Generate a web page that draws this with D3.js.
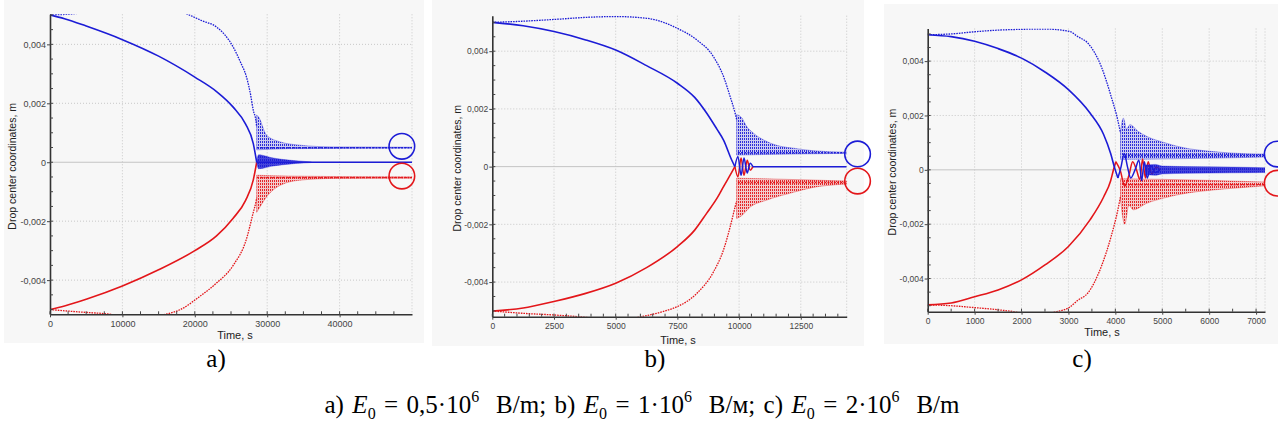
<!DOCTYPE html>
<html>
<head>
<meta charset="utf-8">
<script src="https://cdn.jsdelivr.net/npm/d3@7"></script>
<style>
	body { margin: 0; background: #fff; }
	svg { display: block; }
	.sans { font-family: 'Liberation Sans', Arial, sans-serif; fill: #333; }
	.serif { font-family: 'Liberation Serif', 'Times New Roman', serif; fill: #000; }
</style>
</head>
<body>
<script>
// values: time in s, drop centre coordinate in m

var coordTicks = [0.004, 0.002, 0, -0.002, -0.004];
var coordTickLabels = ['0,004', '0,002', '0', '-0,002', '-0,004'];

var timeTicksA = [0, 10000, 20000, 30000, 40000];
var timeTicksB = [0, 2500, 5000, 7500, 10000, 12500];
var timeTicksC = [0, 1000, 2000, 3000, 4000, 5000, 6000, 7000];

var panelNames = ['a)', 'b)', 'c)'];

// panel a, E0 = 0,5e6
var blueInnerA = [[0, 0.0050], [2000, 0.00487], [5000, 0.00462], [10000, 0.00416], [15000, 0.0036],
	[20000, 0.00289], [23000, 0.0024], [25300, 0.00187], [27000, 0.0013], [28080, 0.00063], [28550, 0]];
var blueOuterA = [[0, 0.0050], [3000, 0.00503], [8000, 0.0052], [13000, 0.0053], [17000, 0.0052],
	[19100, 0.00501], [21000, 0.0048], [23000, 0.00459], [25300, 0.00391], [26300, 0.0034],
	[27140, 0.00289], [27700, 0.0023], [28080, 0.00176], [28440, 0.00142], [28550, 0.0012]];
var redInnerA = [[0, -0.0050], [2000, -0.00488], [5000, -0.00465], [10000, -0.0042], [15000, -0.00365],
	[20000, -0.0030], [23000, -0.0025], [25300, -0.0019], [27000, -0.0013], [28080, -0.0006], [28550, 0]];
var redOuterA = [[0, -0.0050], [4000, -0.00508], [8000, -0.00515], [12000, -0.0053], [16000, -0.00516],
	[18000, -0.0050], [20700, -0.00455], [23000, -0.0041], [25300, -0.0035], [27140, -0.0026],
	[28080, -0.0017], [28440, -0.00135], [28550, -0.0012]];
var blueBandTopA = [[28550, 0.0016], [28800, 0.00154], [29900, 0.00092], [31800, 0.00069], [34500, 0.00058],
	[39100, 0.00052], [50000, 0.00051]];
var blueBandBottomA = [[28550, 0.00042], [33000, 0.00046], [50000, 0.00048]];
var redBandTopA = [[28550, -0.00044], [33000, -0.00047], [50000, -0.0005]];
var redBandBottomA = [[28550, -0.0017], [28800, -0.0016], [29900, -0.00118], [31800, -0.00078],
	[34500, -0.00061], [39100, -0.00055], [50000, -0.00054]];
var zeroBandTopA = [[28550, 0], [28800, 0.00025], [29300, 0.00024], [30500, 0.00016], [32000, 0.0001],
	[34000, 0.00005], [36100, 0.00001]];
var zeroBandBottomA = [[28550, 0], [28800, -0.00022], [29300, -0.00021], [30500, -0.00014], [32000, -0.00009],
	[34000, -0.00004], [36100, -0.00001]];
var blueSteadyA = [[28600, 0.00049], [50000, 0.00049]];
var redSteadyA = [[28600, -0.00052], [50000, -0.00052]];
var zeroSteadyA = [[28550, 0], [50000, 0]];
var circlesA = [[48600, 0.00054], [48600, -0.00047]];

// panel b, E0 = 1e6
var blueInnerB = [[0, 0.0050], [1250, 0.00488], [2500, 0.00468], [3750, 0.0044], [5000, 0.00404],
	[6250, 0.0035], [7500, 0.00289], [8200, 0.0024], [8690, 0.00185], [9100, 0.0013], [9370, 0.00092],
	[9700, 0.00023], [9830, 0]];
var blueOuterB = [[0, 0.0050], [1000, 0.00503], [2500, 0.0051], [4000, 0.00518], [5000, 0.0052],
	[6260, 0.00514], [7000, 0.00498], [7500, 0.00479], [8290, 0.00439], [8960, 0.00381], [9370, 0.00312],
	[9640, 0.00242], [9840, 0.00185], [9900, 0.00164]];
var redInnerB = [[0, -0.0050], [1250, -0.0049], [2500, -0.00467], [3750, -0.0044], [5000, -0.00404],
	[6250, -0.0035], [7500, -0.00277], [8200, -0.0022], [8690, -0.00161], [9100, -0.0011], [9370, -0.00069],
	[9700, -0.0002], [9830, 0]];
var redOuterB = [[0, -0.0050], [1200, -0.00508], [2500, -0.00514], [3500, -0.0052], [5000, -0.0053],
	[6260, -0.00516], [7000, -0.005], [7500, -0.00485], [8290, -0.00439], [8960, -0.00365], [9370, -0.00288],
	[9640, -0.00208], [9840, -0.00139], [9900, -0.0012]];
var blueBandTopB = [[9900, 0.0018], [10100, 0.0017], [10300, 0.0014], [10580, 0.00116], [11120, 0.00087],
	[11700, 0.0007], [12200, 0.00064], [13000, 0.00055], [14360, 0.0005]];
var blueBandBottomB = [[9900, 0.0004], [11000, 0.00042], [14360, 0.00046]];
var redBandTopB = [[9900, -0.0004], [11000, -0.00042], [14360, -0.0005]];
var redBandBottomB = [[9900, -0.0018], [10100, -0.0017], [10450, -0.0014], [11120, -0.00116],
	[12200, -0.00089], [13000, -0.00072], [14200, -0.00061], [14360, -0.0006]];
var blueLoopB = [[9830, 0], [9950, 0.00035], [10080, -0.0003], [10200, 0.0003], [10330, -0.00022],
	[10450, 0.00012], [10560, 0]];
var redLoopB = [[9830, 0], [9950, -0.00035], [10080, 0.0003], [10200, -0.0003], [10330, 0.00022],
	[10450, -0.00012], [10560, 0]];
var blueSteadyB = [[9950, 0.00048], [14360, 0.00048]];
var redSteadyB = [[9950, -0.00055], [14360, -0.00055]];
var zeroSteadyB = [[10560, 0], [14360, 0]];
var circlesB = [[14800, 0.00044], [14800, -0.0005]];

// panel c, E0 = 2e6
var blueInnerC = [[0, 0.00497], [500, 0.0049], [1000, 0.00473], [1500, 0.00446], [2000, 0.00411],
	[2500, 0.0036], [3000, 0.00295], [3460, 0.00209], [3750, 0.0013], [3900, 0.0006], [3980, 0.0001],
	[4055, -0.0003]];
var blueOuterC = [[0, 0.00497], [500, 0.005], [1000, 0.00508], [1500, 0.00514], [2000, 0.00517],
	[2500, 0.00518], [3030, 0.00509], [3200, 0.0049], [3410, 0.00467], [3700, 0.0038], [3910, 0.0027],
	[4050, 0.00184], [4110, 0.00136]];
var redInnerC = [[0, -0.00497], [500, -0.0049], [1000, -0.00467], [1500, -0.00442], [2000, -0.00405],
	[2500, -0.0035], [3000, -0.00282], [3460, -0.00184], [3750, -0.001], [3900, -0.0004], [3960, 0],
	[4010, 0.0003]];
var redOuterC = [[0, -0.00497], [500, -0.005], [1000, -0.00507], [1500, -0.00515], [1900, -0.00524],
	[2300, -0.0054], [2700, -0.00524], [3030, -0.00505], [3200, -0.0048], [3410, -0.00454], [3700, -0.00356],
	[3910, -0.00245], [4050, -0.0015], [4110, -0.00098]];
var blueBandTopC = [[4110, 0.0014], [4170, 0.0019], [4240, 0.0015], [4310, 0.00166], [4490, 0.00141],
	[4670, 0.00123], [5030, 0.00101], [5380, 0.00084], [6090, 0.00067], [6800, 0.00059], [7190, 0.00058]];
var blueBandBottomC = [[4110, 0.00039], [5000, 0.0004], [7190, 0.00047]];
var redBandTopC = [[4110, -0.00033], [5000, -0.00035], [7190, -0.00045]];
var redBandBottomC = [[4110, -0.0011], [4200, -0.002], [4290, -0.0013], [4380, -0.00147], [4670, -0.00123],
	[5030, -0.00104], [5380, -0.0009], [6090, -0.00074], [6800, -0.00064], [7190, -0.00059]];
var blueLoopC = [[4055, -0.0003], [4120, 0.0001], [4190, 0.0006], [4260, 0.0001], [4330, -0.0003],
	[4420, 0], [4500, 0.00035], [4560, -0.0004], [4620, 0.0003], [4680, -0.0003], [4760, 0.00015],
	[4850, -0.0001], [4950, 0]];
var redLoopC = [[4010, 0.0003], [4100, 0], [4200, -0.0006], [4290, -0.0002], [4370, 0.0003], [4450, 0],
	[4520, -0.00035], [4580, 0.0004], [4640, -0.0003], [4700, 0.0003], [4780, -0.00015], [4870, 0.0001],
	[4950, 0]];
var zeroBandTopC = [[4650, 0.00018], [4850, 0.0002], [5000, 0.00014], [5500, 0.00012], [6500, 0.0001],
	[7190, 0.00008]];
var zeroBandBottomC = [[4650, -0.00018], [4850, -0.0002], [5000, -0.00015], [5500, -0.00013],
	[6500, -0.00011], [7190, -0.0001]];
var blueSteadyC = [[4200, 0.00053], [7190, 0.00053]];
var redSteadyC = [[4200, -0.00055], [7190, -0.00055]];
var circlesC = [[7450, 0.00058], [7450, -0.00049]];

var blue = '#1c1cd6', red = '#e3161a';

var width = 1278, height = 432;

var svg = d3.select('body').append('svg')
	.attr('width', width)
	.attr('height', height);

// hatch patterns for the dense oscillation bands
var defs = svg.append('defs');
[['hatchBlue', blue, 0.2], ['hatchRed', red, 0.2], ['hatchZero', blue, 0.8]].forEach(function(h) {
	var pat = defs.append('pattern')
		.attr('id', h[0])
		.attr('patternUnits', 'userSpaceOnUse')
		.attr('width', 2)
		.attr('height', 3);
	pat.append('rect')
		.attr('width', 2).attr('height', 3)
		.style('fill', h[1]).style('opacity', h[2]);
	pat.append('rect')
		.attr('width', 1).attr('height', 2)
		.style('fill', h[1]).style('opacity', 0.9);
});

var panels = [
	{id: 'a', bg: [4, 0, 420, 343], left: 50, right: 412, top: 14.3, bottom: 314.3,
		xMax: 50000, yMin: -0.00516, yMax: 0.00502, xTicks: timeTicksA, xMinor: 2500, font: 9,
		xLabelX: 235, xLabelY: 339, yTitleX: 12, letterX: 216,
		blueInner: blueInnerA, blueOuter: blueOuterA, redInner: redInnerA, redOuter: redOuterA,
		blueBand: [blueBandTopA, blueBandBottomA], redBand: [redBandTopA, redBandBottomA],
		zeroBand: [zeroBandTopA, zeroBandBottomA], loops: [],
		steady: [[blueSteadyA, blue], [redSteadyA, red]], zeroLine: zeroSteadyA, circles: circlesA},
	{id: 'b', bg: [432, 0, 432, 346], left: 492.3, right: 846.7, top: 15.7, bottom: 316.7,
		xMax: 14360, yMin: -0.0052, yMax: 0.00523, xTicks: timeTicksB, xMinor: 500, font: 8.5,
		xLabelX: 678, xLabelY: 344, yTitleX: 457, letterX: 655,
		blueInner: blueInnerB, blueOuter: blueOuterB, redInner: redInnerB, redOuter: redOuterB,
		blueBand: [blueBandTopB, blueBandBottomB], redBand: [redBandTopB, redBandBottomB],
		zeroBand: null, loops: [[redLoopB, red], [blueLoopB, blue]],
		steady: [[blueSteadyB, blue], [redSteadyB, red]], zeroLine: zeroSteadyB, circles: circlesB},
	{id: 'c', bg: [884, 4, 394, 340], left: 927.7, right: 1265, top: 28.5, bottom: 311.7,
		xMax: 7190, yMin: -0.00522, yMax: 0.0052, xTicks: timeTicksC, xMinor: 500, font: 8.5,
		xLabelX: 1102, xLabelY: 336, yTitleX: 892, letterX: 1082,
		blueInner: blueInnerC, blueOuter: blueOuterC, redInner: redInnerC, redOuter: redOuterC,
		blueBand: [blueBandTopC, blueBandBottomC], redBand: [redBandTopC, redBandBottomC],
		zeroBand: [zeroBandTopC, zeroBandBottomC], loops: [[redLoopC, red], [blueLoopC, blue]],
		steady: [[blueSteadyC, blue], [redSteadyC, red]], zeroLine: null, circles: circlesC}
];

panels.forEach(function(p, pi) {
	var g = svg.append('g');

	g.append('rect')
		.attr('x', p.bg[0]).attr('y', p.bg[1])
		.attr('width', p.bg[2]).attr('height', p.bg[3])
		.style('fill', '#f7f7f7');

	var x = d3.scaleLinear().domain([0, p.xMax]).range([p.left, p.right]);
	var y = d3.scaleLinear().domain([p.yMin, p.yMax]).range([p.bottom, p.top]);

	// grid
	g.selectAll('.vgrid').data(p.xTicks.slice(1).concat([p.xMax]))
		.enter().append('line')
		.attr('x1', function(d) { return x(d); }).attr('x2', function(d) { return x(d); })
		.attr('y1', p.top).attr('y2', p.bottom)
		.style('stroke', '#c8c8c8').style('stroke-dasharray', '1,2');
	g.selectAll('.hgrid').data(coordTicks)
		.enter().append('line')
		.attr('x1', p.left).attr('x2', p.right)
		.attr('y1', function(d) { return y(d); }).attr('y2', function(d) { return y(d); })
		.style('stroke', function(d) { return d === 0 ? '#c4c4c4' : '#c8c8c8'; })
		.style('stroke-dasharray', function(d) { return d === 0 ? null : '1,2'; });

	// clip to the plot area
	var clipId = 'clip' + p.id;
	defs.append('clipPath').attr('id', clipId)
		.append('rect')
		.attr('x', p.left).attr('y', p.top)
		.attr('width', p.right - p.left).attr('height', p.bottom - p.top);
	var plot = g.append('g').attr('clip-path', 'url(#' + clipId + ')');

	var line = d3.line()
		.x(function(d) { return x(d[0]); })
		.y(function(d) { return y(d[1]); })
		.curve(d3.curveMonotoneX);
	var loopLine = d3.line()
		.x(function(d) { return x(d[0]); })
		.y(function(d) { return y(d[1]); })
		.curve(d3.curveCatmullRom);

	function band(pair, fill, stroke) {
		plot.append('path')
			.attr('d', line(pair[0]) + 'L' + line(pair[1].slice().reverse()).slice(1) + 'Z')
			.style('fill', fill)
			.style('stroke', stroke)
			.style('stroke-width', 0.6)
			.style('stroke-opacity', 0.6);
	}

	// bands of fast oscillation after the drops meet
	band(p.blueBand, 'url(#hatchBlue)', blue);
	band(p.redBand, 'url(#hatchRed)', red);

	p.steady.forEach(function(s) {
		plot.append('path')
			.attr('d', line(s[0]))
			.style('fill', 'none').style('stroke', s[1])
			.style('stroke-width', 1.6).style('stroke-dasharray', '2,1.2');
	});

	// outer (dotted) and inner (dense) trajectories
	[[p.blueOuter, blue], [p.redOuter, red]].forEach(function(s) {
		plot.append('path')
			.attr('d', line(s[0]))
			.style('fill', 'none').style('stroke', s[1])
			.style('stroke-width', 1.3).style('stroke-dasharray', '1.6,1');
	});
	[[p.redInner, red], [p.blueInner, blue]].forEach(function(s) {
		plot.append('path')
			.attr('d', line(s[0]))
			.style('fill', 'none').style('stroke', s[1])
			.style('stroke-width', 1.6);
	});

	p.loops.forEach(function(s) {
		plot.append('path')
			.attr('d', loopLine(s[0]))
			.style('fill', 'none').style('stroke', s[1])
			.style('stroke-width', 1.5);
	});

	if (p.zeroBand) band(p.zeroBand, 'url(#hatchZero)', blue);
	if (p.zeroLine) {
		plot.append('path')
			.attr('d', line(p.zeroLine))
			.style('fill', 'none').style('stroke', blue)
			.style('stroke-width', 1.5);
	}

	// annotation circles at the steady positions
	g.selectAll('.ring').data(p.circles)
		.enter().append('circle')
		.attr('cx', function(d) { return x(d[0]); })
		.attr('cy', function(d) { return y(d[1]); })
		.attr('r', 12.8)
		.style('fill', 'none')
		.style('stroke', function(d, i) { return i === 0 ? blue : red; })
		.style('stroke-width', 1.6);

	// axes
	var yAxis = d3.axisLeft(y)
		.tickValues(coordTicks)
		.tickFormat(function(d, i) { return coordTickLabels[i]; })
		.tickSize(3)
		.tickSizeOuter(0);
	var ya = g.append('g')
		.attr('transform', 'translate(' + p.left + ',0)')
		.call(yAxis);
	var yMinor = d3.range(-0.005, 0.0051, 0.0005);
	g.selectAll('.ymin').data(yMinor)
		.enter().append('line')
		.attr('x1', p.left).attr('x2', p.left + 3)
		.attr('y1', function(d) { return y(d); }).attr('y2', function(d) { return y(d); })
		.style('stroke', '#444');

	var xAxis = d3.axisBottom(x)
		.tickValues(p.xTicks)
		.tickFormat(function(d) { return String(d); })
		.tickSize(3)
		.tickSizeOuter(0);
	var xa = g.append('g')
		.attr('transform', 'translate(0,' + p.bottom + ')')
		.call(xAxis);
	var xMinor = d3.range(0, p.xMax, p.xMinor);
	g.selectAll('.xmin').data(xMinor)
		.enter().append('line')
		.attr('x1', function(d) { return x(d); }).attr('x2', function(d) { return x(d); })
		.attr('y1', p.bottom).attr('y2', p.bottom - 3)
		.style('stroke', '#444');

	[ya, xa].forEach(function(a) {
		a.select('.domain').style('stroke', '#333').style('stroke-width', 1.6);
		a.selectAll('.tick line').style('stroke', '#444');
		a.selectAll('.tick text')
			.attr('class', 'sans')
			.style('font-size', p.font + 'px')
			.style('fill', '#444');
	});
	ya.selectAll('.tick text').attr('x', -4);
	xa.selectAll('.tick text').attr('y', 6);

	g.append('text')
		.attr('class', 'sans')
		.attr('x', p.xLabelX)
		.attr('y', p.xLabelY)
		.style('font-size', '11px')
		.style('text-anchor', 'middle')
		.style('fill', '#222')
		.text('Time, s');

	g.append('text')
		.attr('class', 'sans')
		.attr('transform', 'translate(' + p.yTitleX + ',' + ((p.top + p.bottom) / 2 + 2) + ') rotate(-90)')
		.attr('dy', '0.35em')
		.style('font-size', '10.5px')
		.style('text-anchor', 'middle')
		.style('fill', '#222')
		.text('Drop center coordinates, m');

	// panel letter under each chart
	svg.append('text')
		.attr('class', 'serif')
		.attr('x', p.letterX)
		.attr('y', 367)
		.style('font-size', '25px')
		.style('text-anchor', 'middle')
		.text(panelNames[pi]);
});

// caption
var caption = svg.append('text')
	.attr('class', 'serif')
	.attr('x', 642)
	.attr('y', 413)
	.style('font-size', '25px')
	.style('text-anchor', 'middle')
	.style('white-space', 'pre');

var captionParts = [
	['a) ', ''], ['E', 'i'], ['0', 'sub'], [' = 0,5\u00b710', ''], ['6', 'sup'], ['  B/m; b) ', ''],
	['E', 'i'], ['0', 'sub'], [' = 1\u00b710', ''], ['6', 'sup'], ['  B/\u043c; c) ', ''],
	['E', 'i'], ['0', 'sub'], [' = 2\u00b710', ''], ['6', 'sup'], ['  B/m', '']
];
captionParts.forEach(function(c, i) {
	var t = caption.append('tspan').text(c[0]);
	var prev = i > 0 ? captionParts[i - 1][1] : '';
	if (c[1] === 'i') t.style('font-style', 'italic');
	if (c[1] === 'sub') t.attr('dy', 6).style('font-size', '16px');
	if (c[1] === 'sup') t.attr('dy', -11).style('font-size', '16px');
	if (c[1] === '' && prev === 'sub') t.attr('dy', -6);
	if (c[1] === '' && prev === 'sup') t.attr('dy', 11);
});

// stretch the word spacing a little so the caption spans the same width as the original
var captionWidth = 635;
var natural = caption.node().getComputedTextLength();
var spaces = captionParts.map(function(c) { return c[0]; }).join('').split(' ').length - 1;
caption.style('word-spacing', Math.max(0, (captionWidth - natural) / spaces) + 'px');
</script>
</body>
</html>
